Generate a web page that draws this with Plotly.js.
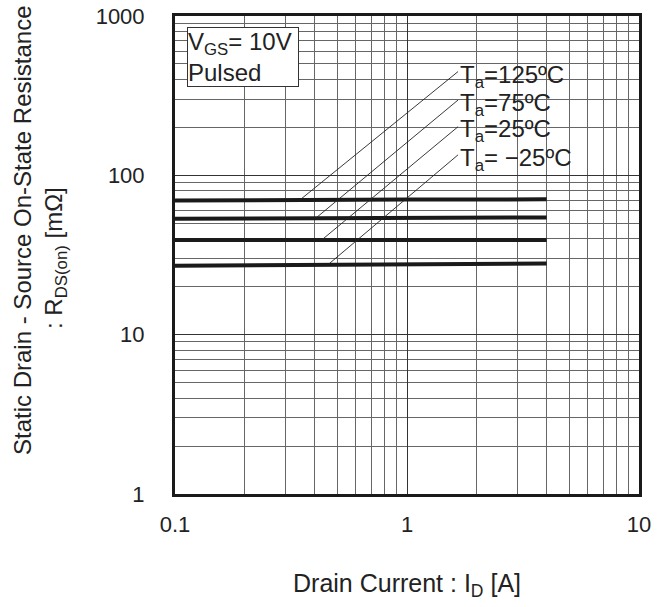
<!DOCTYPE html>
<html>
<head>
<meta charset="utf-8">
<script src="https://cdn.plot.ly/plotly-3.0.1.min.js"></script>
<style>html,body{margin:0;padding:0;background:#fff;}</style>
</head>
<body>
<div id="chart" style="width:662px;height:607px;"></div>
<script>
// Drain current values (A)
const currents = [0.1, 0.2, 0.4, 1, 2, 4];
// RDS(on) values (mOhm) for each ambient temperature
const r125 = [69.5, 70.0, 70.3, 70.5, 70.6, 70.7];
const r75  = [53.4, 53.7, 54.0, 54.2, 54.3, 54.4];
const r25  = [39.3, 39.3, 39.3, 39.3, 39.3, 39.3];
const rm25 = [27.1, 27.2, 27.5, 27.8, 27.9, 28.0];

// Label texts and their leader lines (from curve point to label)
const labelTexts = ["T<sub>a</sub>=125ºC", "T<sub>a</sub>=75ºC", "T<sub>a</sub>=25ºC", "T<sub>a</sub>= \u221225ºC"];
const leaderStartX = [0.346, 0.406, 0.429, 0.458];
const leaderStartY = [70.2, 54.1, 39.3, 27.6];
const leaderEndX = [1.66, 1.66, 1.66, 1.66];
const leaderEndY = [448, 297, 202, 134.5];
const labelY = [420, 280, 190, 126];

const xTickVals = [0.1, 1, 10];
const xTickText = ["0.1", "1", "10"];
const yTickVals = [1, 10, 100, 1000];
const yTickText = ["1", "10", "100", "1000"];

const curveStyle = {color: '#1a1a1a', width: 4};
const traces = [];
[r125, r75, r25, rm25].forEach(function (r) {
  traces.push({x: currents, y: r, mode: 'lines', line: curveStyle, hoverinfo: 'skip', showlegend: false});
});
for (let i = 0; i < labelTexts.length; i++) {
  traces.push({x: [leaderStartX[i], leaderEndX[i]], y: [leaderStartY[i], leaderEndY[i]],
    mode: 'lines', line: {color: '#222', width: 0.9}, hoverinfo: 'skip', showlegend: false});
}

const fam = 'Liberation Sans, Arial, sans-serif';
const font = {family: fam, size: 24, color: '#222'};
const tickFont = {family: fam, size: 22, color: '#222'};
const annotations = [];
for (let i = 0; i < labelTexts.length; i++) {
  annotations.push({x: Math.log10(1.67), y: Math.log10(labelY[i]), xref: 'x', yref: 'y',
    text: labelTexts[i], showarrow: false, xanchor: 'left', yanchor: 'middle', font: font, borderpad: 0});
}
annotations.push({x: 0.025, y: 0.977, xref: 'paper', yref: 'paper', xanchor: 'left', yanchor: 'top',
  text: 'V<sub>GS</sub>= 10V<br>Pulsed', showarrow: false, align: 'left', font: font,
  bgcolor: '#fff', bordercolor: '#333', borderwidth: 1, borderpad: 0, width: 110, height: 58, valign: 'middle'});
// Y axis title, two rotated lines
annotations.push({x: (22 - 175) / 464, y: (494 - 230) / 478, xref: 'paper', yref: 'paper',
  xanchor: 'center', yanchor: 'middle',
  text: 'Static Drain - Source On-State Resistance', showarrow: false, textangle: -90, font: font});
annotations.push({x: (55 - 175) / 464, y: (494 - 258) / 478, xref: 'paper', yref: 'paper',
  xanchor: 'center', yanchor: 'middle',
  text: ': R<sub>DS(on)</sub> [mΩ]', showarrow: false, textangle: -90, font: font});
// X axis title
annotations.push({x: 0.5, y: (494 - 585) / 478, xref: 'paper', yref: 'paper',
  xanchor: 'center', yanchor: 'middle',
  text: 'Drain Current : I<sub>D</sub> [A]', showarrow: false, font: {family: fam, size: 25, color: '#222'}});

const layout = {
  width: 662, height: 607,
  margin: {l: 175, r: 23, t: 16, b: 113, pad: 0},
  paper_bgcolor: '#fff', plot_bgcolor: '#fff',
  font: font,
  showlegend: false,
  xaxis: {
    type: 'log', range: [-1, 1], tickmode: 'array', tickvals: xTickVals, ticktext: xTickText,
    showline: true, mirror: true, linewidth: 3, linecolor: '#1a1a1a',
    showgrid: true, gridcolor: '#333', gridwidth: 1, ticks: '', ticklabelstandoff: 9,
    minor: {dtick: 'D1', showgrid: true, gridcolor: '#666', gridwidth: 1, ticks: ''},
    zeroline: false, tickfont: tickFont
  },
  yaxis: {
    type: 'log', range: [0, 3], tickmode: 'array', tickvals: yTickVals, ticktext: yTickText,
    showline: true, mirror: true, linewidth: 3, linecolor: '#1a1a1a',
    showgrid: true, gridcolor: '#333', gridwidth: 1, ticks: '', ticklabelstandoff: 23,
    minor: {dtick: 'D1', showgrid: true, gridcolor: '#666', gridwidth: 1, ticks: ''},
    zeroline: false, tickfont: tickFont
  },
  annotations: annotations
};

Plotly.newPlot('chart', traces, layout, {displayModeBar: false, staticPlot: true});
</script>
</body>
</html>
